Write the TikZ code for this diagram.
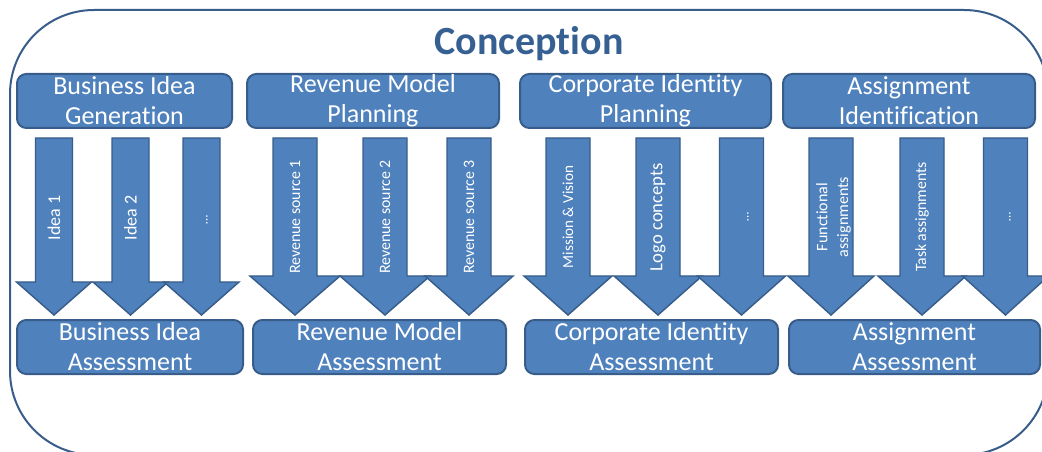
\documentclass[tikz,border=0pt]{standalone}
\usepackage{fontspec}
\setmainfont{Carlito}[Ligatures=NoCommon]
\definecolor{boxblue}{HTML}{4F81BD}
\definecolor{edgeblue}{HTML}{385D8A}
\definecolor{titleblue}{HTML}{376092}
\tikzset{
  phase/.style={draw=edgeblue, line width=1.5pt, fill=boxblue, rounded corners=7pt,
    text=white, align=center, inner sep=0pt, minimum height=40.5pt,
    font=\fontsize{19.5}{22.5}\selectfont},
  flow/.style={draw=edgeblue, line width=1.1pt, fill=boxblue, line join=miter},
  flowtext/.style={text=white, rotate=90, align=center, inner sep=0pt}
}
\begin{document}
\begin{tikzpicture}[x=0.75pt, y=-0.75pt]
        \useasboundingbox (0,0) rectangle (1042,452);
        \clip (0,0) rectangle (1042,452);
        \draw[edgeblue, line width=1.5pt, rounded corners=63pt] (10,10) rectangle (1048,455);
        \node[text=titleblue, font=\fontsize{30}{34}\selectfont\bfseries] (title) at (529,44) {Conception};
        % top row
        \node[phase, minimum width=161.25pt] (gen1) at (124.5,101) {Business Idea\\Generation};
        \node[phase, minimum width=189pt] (gen2) at (373,101) {Revenue Model\\Planning};
        \node[phase, minimum width=188.25pt] (gen3) at (645.5,101) {Corporate Identity\\Planning};
        \node[phase, minimum width=189pt] (gen4) at (909,101) {Assignment\\Identification};
        % arrows: centre / half shaft / half head / head base
        \foreach \c/\s/\h/\b in {54/18.5/37.5/282, 130.5/18.5/37.5/282, 201.5/18.5/37.5/282,
            295/22/45/276, 385/22/45/276, 469/22/44/276,
            568/22/44/276, 658/22/44/276, 741.5/22/44/276,
            831/22/43/276, 922/22/44/276, 1005.5/22/43/276} {
          \draw[flow] (\c-\s,138) -- (\c+\s,138) -- (\c+\s,\b) -- (\c+\h,\b)
            -- (\c,315) -- (\c-\h,\b) -- (\c-\s,\b) -- cycle;
        }
        \node[flowtext, font=\fontsize{13.5}{16}\selectfont] (idea1) at (54,218) {Idea 1};
        \node[flowtext, font=\fontsize{13.5}{16}\selectfont] (idea2) at (130.5,218) {Idea 2};
        \node[flowtext, font=\fontsize{10}{12}\selectfont] (idea3) at (207,220) {…};
        \node[flowtext, font=\fontsize{11.9}{14}\selectfont] (rev1) at (295,217) {Revenue source 1};
        \node[flowtext, font=\fontsize{11.9}{14}\selectfont] (rev2) at (385,217) {Revenue source 2};
        \node[flowtext, font=\fontsize{11.9}{14}\selectfont] (rev3) at (469,217) {Revenue source 3};
        \node[flowtext, font=\fontsize{11.4}{14}\selectfont] (ci1) at (568,217) {Mission \& Vision};
        \node[flowtext, font=\fontsize{14}{16}\selectfont] (ci2) at (658,217) {Logo concepts};
        \node[flowtext, font=\fontsize{10}{12}\selectfont] (ci3) at (748,217) {…};
        \node[flowtext, font=\fontsize{12}{15.5}\selectfont] (as1) at (833.5,217) {Functional\\assignments};
        \node[flowtext, font=\fontsize{11.8}{14}\selectfont] (as2) at (922,217) {Task assignments};
        \node[flowtext, font=\fontsize{10}{12}\selectfont] (as3) at (1010,217) {…};
        % bottom row
        \node[phase, minimum width=169.5pt] (ass1) at (130,347) {Business Idea\\Assessment};
        \node[phase, minimum width=189.75pt] (ass2) at (379.5,347) {Revenue Model\\Assessment};
        \node[phase, minimum width=189.75pt] (ass3) at (651.5,347) {Corporate Identity\\Assessment};
        \node[phase, minimum width=188.25pt] (ass4) at (914.5,347) {Assignment\\Assessment};
      \end{tikzpicture}
\end{document}
